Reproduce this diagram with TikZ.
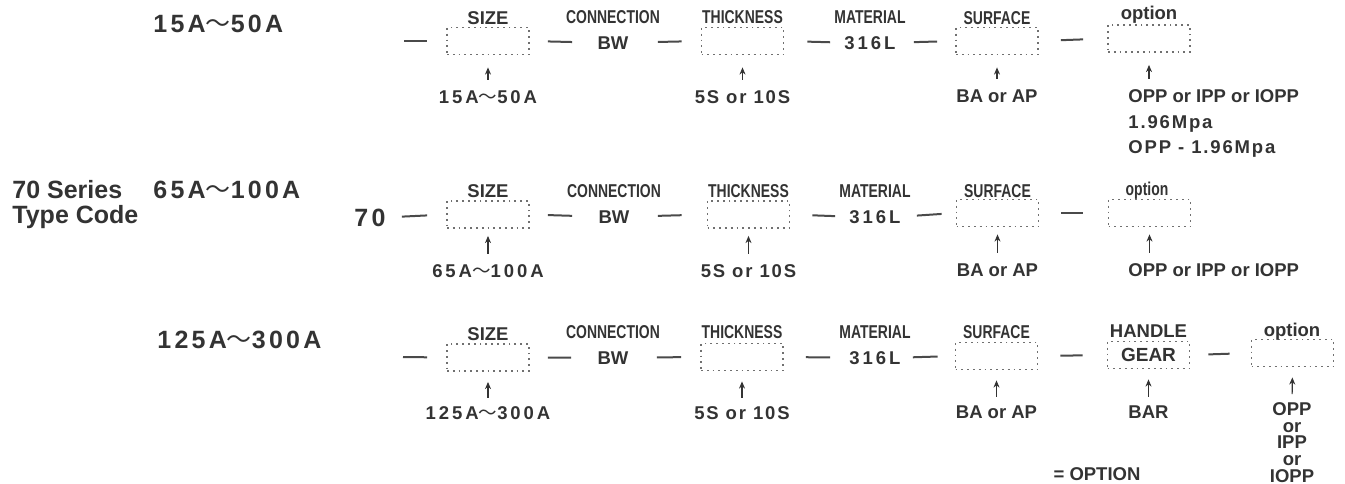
\documentclass[tikz,border=0pt]{standalone}
\usepackage{fontspec}
\setmainfont{Liberation Sans}
\newfontfamily\wideA{Liberation Sans}[LetterSpace=16]
\newfontfamily\wideB{Liberation Sans}[LetterSpace=13]
\newfontfamily\wideC{Liberation Sans}[LetterSpace=10]
\newfontfamily\narrow{Liberation Sans}[FakeStretch=0.75]
\newfontfamily\cjk{Noto Sans CJK JP}
\newcommand{\tld}{{\cjk\mdseries ～}}
\usetikzlibrary{arrows.meta,positioning}
\definecolor{cInk}{HTML}{333333}
\definecolor{cSlot}{HTML}{707070}
\definecolor{cLine}{HTML}{4A4A4A}
\tikzset{
  >={Stealth[length=3.6pt,width=3pt]},
  txt/.style   ={inner sep=0pt,anchor=base,text=cInk},
  val/.style   ={txt,font=\bfseries\fontsize{9.25}{11}\selectfont},
  num/.style   ={txt,font=\wideA\bfseries\fontsize{9.25}{11}\selectfont},
  numc/.style  ={txt,font=\wideC\bfseries\fontsize{9.25}{11}\selectfont},
  head/.style  ={txt,font=\narrow\bfseries\fontsize{9.3}{10}\selectfont},
  big/.style   ={txt,anchor=base west,font=\wideB\bfseries\fontsize{12.5}{14}\selectfont},
  bigtxt/.style={txt,anchor=base west,font=\bfseries\fontsize{12.5}{14}\selectfont},
  slot/.style  ={draw=cSlot,dotted,line width=0.9pt,minimum width=41pt,
                 minimum height=13.5pt,inner sep=0pt},
  link/.style  ={cLine,line width=1pt},
  up/.style    ={->,cInk,line width=0.6pt},
}

\begin{document}
\begin{tikzpicture}[x=0.5pt,y=-0.5pt]
\useasboundingbox (0,0) rectangle (1345,483);

% 15A~50A
\node[big] (rng1) at (153,32) {15A\tld50A};
\coordinate (s1) at (404,41);
\node[slot] (sz1) at (488,41) {};
\node[val]  (szh1) at (488,24) {SIZE};
\node[head] (cnh1) at (613,23) {CONNECTION};
\node[val]  (bw1) at (613,49) {BW};
\node[slot] (th1) at (742.5,41) {};
\node[head] (thh1) at (742.5,23) {THICKNESS};
\node[head] (mth1) at (870,23) {MATERIAL};
\node[num]  (ml1) at (870,49) {316L};
\node[slot] (sf1) at (997,41) {};
\node[head] (sfh1) at (997,24) {SURFACE};
\node[slot] (op1) at (1149,38.5) {};
\node[val]  (oph1) at (1149,19) {option};
\node[num]  (v1a) at (488,103) {15A\tld50A};
\node[numc] (v1b) at (742.5,103) {5S or 10S};
\node[val]  (v1c) at (997,102) {BA or AP};
\node[val,anchor=base west]  (v1d) at (1128,102) {OPP or IPP or IOPP};
\node[numc,anchor=base west] (v1e) at (1128,128) {1.96Mpa};
\node[numc,anchor=base west] (v1f) at (1128,153) {OPP - 1.96Mpa};
\draw[link,shorten >=9.5pt] (s1) -- (sz1.west);
\draw[link,shorten <=9pt,shorten >=12.5pt] (sz1.east) -- (bw1.west);
\draw[link,shorten <=14.5pt,shorten >=9.5pt] (bw1.east) -- (th1.west);
\draw[link,shorten <=11.5pt,shorten >=7pt] (th1.east) -- (ml1.west);
\draw[link,shorten <=9pt,shorten >=9pt] (ml1.east) -- (sf1.west);
\draw[link,shorten <=11pt,shorten >=12pt] (sf1.east) -- (op1.west);
\draw[up,shorten <=5pt,shorten >=6pt] (v1a.north) -- (sz1.south);
\draw[up,shorten <=5pt,shorten >=6pt] (v1b.north) -- (th1.south);
\draw[up,shorten <=5pt,shorten >=6pt] (v1c.north) -- (sf1.south);
\draw[up,shorten <=5pt,shorten >=6pt] (op1.south |- v1d.north) -- (op1.south);

% 65A~100A
\node[bigtxt] (ser) at (12,198) {70 Series};
\node[bigtxt] (typ) at (12,223) {Type Code};
\node[big] (rng2) at (153,198) {65A\tld100A};
\node[big,anchor=base] (pre) at (370,226) {70};
\node[slot] (sz2) at (488,214.5) {};
\node[val]  (szh2) at (488,197) {SIZE};
\node[head] (cnh2) at (614,197) {CONNECTION};
\node[val]  (bw2) at (614,223) {BW};
\node[slot] (th2) at (748.5,214.5) {};
\node[head] (thh2) at (748.5,197) {THICKNESS};
\node[head] (mth2) at (875,197) {MATERIAL};
\node[num]  (ml2) at (875,223) {316L};
\node[slot] (sf2) at (997.5,213) {};
\node[head] (sfh2) at (997.5,197) {SURFACE};
\node[slot] (op2) at (1149.5,213) {};
\node[head] (oph2) at (1147,195) {option};
\node[num]  (v2a) at (488,277) {65A\tld100A};
\node[numc] (v2b) at (748.5,277) {5S or 10S};
\node[val]  (v2c) at (997.5,276) {BA or AP};
\node[val,anchor=base west] (v2d) at (1128,276) {OPP or IPP or IOPP};
\draw[link,shorten <=8pt,shorten >=9.5pt] (pre.east) -- (sz2.west);
\draw[link,shorten <=9pt,shorten >=13pt] (sz2.east) -- (bw2.west);
\draw[link,shorten <=14pt,shorten >=12.5pt] (bw2.east) -- (th2.west);
\draw[link,shorten <=11pt,shorten >=7pt] (th2.east) -- (ml2.west);
\draw[link,shorten <=8pt,shorten >=7pt] (ml2.east) -- (sf2.west);
\draw[link,shorten <=11pt,shorten >=12.5pt] (sf2.east) -- (op2.west);
\draw[up,shorten <=5pt,shorten >=3.5pt] (v2a.north) -- (sz2.south);
\draw[up,shorten <=5pt,shorten >=3.5pt] (v2b.north) -- (th2.south);
\draw[up,shorten <=5pt,shorten >=3.5pt] (v2c.north) -- (sf2.south);
\draw[up,shorten <=5pt,shorten >=3.5pt] (op2.south |- v2d.north) -- (op2.south);

% 125A~300A
\node[big] (rng3) at (157,348) {125A\tld300A};
\coordinate (s3) at (403,357);
\node[slot] (sz3) at (488,357.5) {};
\node[val]  (szh3) at (488,340) {SIZE};
\node[head] (cnh3) at (613,338) {CONNECTION};
\node[val]  (bw3) at (613,364) {BW};
\node[slot] (th3) at (742,357) {};
\node[head] (thh3) at (742,338) {THICKNESS};
\node[head] (mth3) at (875,338) {MATERIAL};
\node[num]  (ml3) at (875,364) {316L};
\node[slot] (sf3) at (996.5,356) {};
\node[head] (sfh3) at (996.5,338) {SURFACE};
\node[slot,font=\bfseries\fontsize{9.5}{11}\selectfont,text=cInk] (hd3) at (1148.5,355) {GEAR};
\node[val]  (hdh3) at (1148.5,337) {HANDLE};
\node[slot] (op3) at (1292.5,353) {};
\node[val]  (oph3) at (1292,336) {option};
\node[num]  (v3a) at (488,419) {125A\tld300A};
\node[numc] (v3b) at (742,419) {5S or 10S};
\node[val]  (v3c) at (996.5,418) {BA or AP};
\node[val]  (v3d) at (1148.5,418) {BAR};
\node[val,anchor=north,align=center,font=\bfseries\fontsize{9.25}{8.35}\selectfont]
  (v3e) at (1292,402) {OPP\\or\\IPP\\or\\IOPP};
\node[val]  (key) at (1097,480) {= OPTION};
\draw[link,shorten >=9.5pt] (s3) -- (sz3.west);
\draw[link,shorten <=9pt,shorten >=13pt] (sz3.east) -- (bw3.west);
\draw[link,shorten <=14pt,shorten >=9.5pt] (bw3.east) -- (th3.west);
\draw[link,shorten <=11pt,shorten >=9.5pt] (th3.east) -- (ml3.west);
\draw[link,shorten <=6pt,shorten >=8.5pt] (ml3.east) -- (sf3.west);
\draw[link,shorten <=11pt,shorten >=12pt] (sf3.east) -- (hd3.west);
\draw[link,shorten <=9pt,shorten >=10.5pt] (hd3.east) -- (op3.west);
\draw[up,shorten <=4pt,shorten >=5pt] (v3a.north) -- (sz3.south);
\draw[up,shorten <=4pt,shorten >=5pt] (v3b.north) -- (th3.south);
\draw[up,shorten <=4pt,shorten >=5pt] (v3c.north) -- (sf3.south);
\draw[up,shorten <=4pt,shorten >=5pt] (v3d.north) -- (hd3.south);
\draw[up,shorten <=4pt,shorten >=5pt] (v3e.north) -- (op3.south);
\end{tikzpicture}
\end{document}
